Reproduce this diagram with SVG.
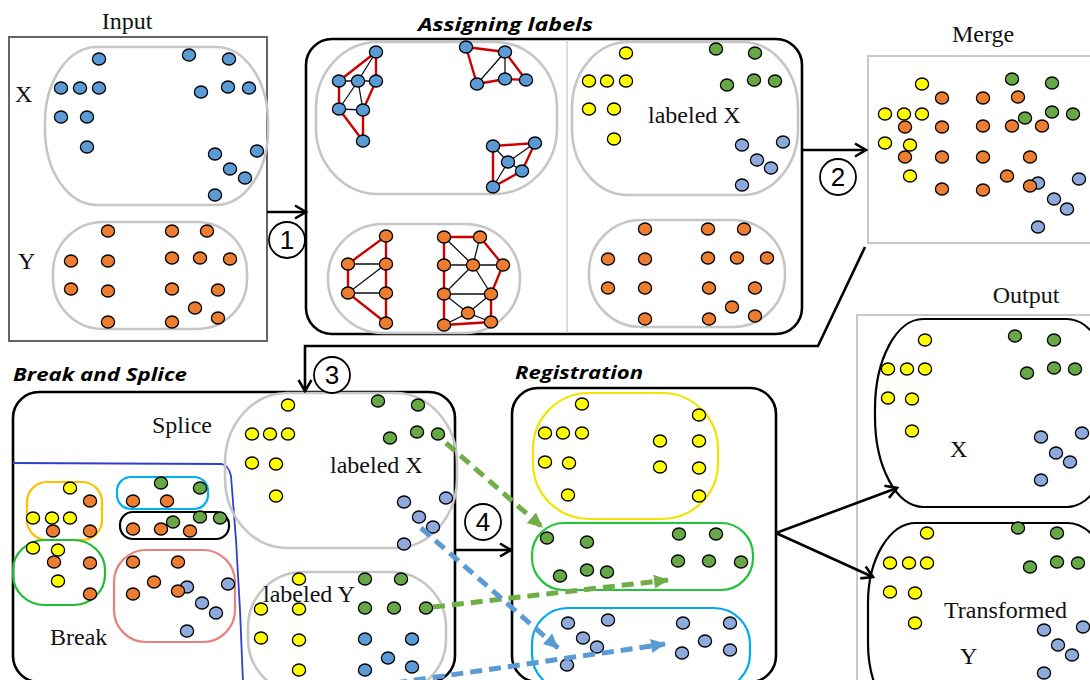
<svg xmlns="http://www.w3.org/2000/svg" xmlns:xlink="http://www.w3.org/1999/xlink" width="1090" height="680" viewBox="0 0 1090 680">
<style>
  .serif{font-family:"Liberation Serif","Times New Roman",serif;font-size:24px;fill:#111}
  .title{font-family:"Open Sans","Liberation Sans",Arial,sans-serif;font-size:18px;font-weight:bold;font-style:italic;fill:#000}
  .box{fill:none;stroke:#000;stroke-width:2.6}
  .gbox{fill:none;stroke:#c8c8c8;stroke-width:2}
  .set{fill:none;stroke:#c6c6c6;stroke-width:2.6}
  .b{fill:#5b9bd5}.o{fill:#ed7d31}.y{fill:#ffff00}.g{fill:#66a845}.l{fill:#8eaadc}
  .re{stroke:#cc0000;stroke-width:2.4;fill:none}
  .be{stroke:#111;stroke-width:1.3;fill:none}
  .arr{fill:none;stroke:#000;stroke-width:2.6}
  .num{fill:#fff;stroke:#000;stroke-width:1.8}
  .numt{font-family:"Liberation Sans",Arial,sans-serif;font-size:26px;fill:#000;text-anchor:middle}
  .dg{fill:none;stroke:#70ad47;stroke-width:5;stroke-dasharray:12 7}
  .db{fill:none;stroke:#5b9bd5;stroke-width:5;stroke-dasharray:12 7}
</style>
<defs>
  <ellipse id="dot" cx="0" cy="0" rx="6.6" ry="6" stroke="#000" stroke-width="1.3"/>
  <marker id="open" markerUnits="userSpaceOnUse" markerWidth="16" markerHeight="16" refX="12" refY="8" orient="auto" overflow="visible">
    <path d="M1,1.5 L12,8 L1,14.5" fill="none" stroke="#000" stroke-width="2.6"/>
  </marker>
  <marker id="headG" markerUnits="userSpaceOnUse" markerWidth="16" markerHeight="16" refX="14" refY="8" orient="auto">
    <path d="M0,1 L15,8 L0,15 z" fill="#70ad47"/>
  </marker>
  <marker id="headB" markerUnits="userSpaceOnUse" markerWidth="16" markerHeight="16" refX="14" refY="8" orient="auto">
    <path d="M0,1 L15,8 L0,15 z" fill="#5b9bd5"/>
  </marker>
</defs>
<rect width="1090" height="680" fill="#fff"/>

<!-- Input: raw point sets X and Y -->
<g id="input">
  <text class="serif" x="127" y="29" text-anchor="middle">Input</text>
  <rect x="9" y="37" width="258" height="304" fill="none" stroke="#666" stroke-width="2"/>
  <rect class="set" x="45" y="47" width="223" height="158" rx="52" ry="75"/>
  <rect class="set" x="53" y="222" width="194" height="107" rx="50" ry="50"/>
  <text class="serif" x="15" y="102">X</text>
  <text class="serif" x="18" y="269">Y</text>
  <g class="b">
    <use href="#dot" x="99" y="59"/><use href="#dot" x="61" y="88"/><use href="#dot" x="80" y="88"/><use href="#dot" x="99" y="88"/>
    <use href="#dot" x="61" y="117"/><use href="#dot" x="87" y="117"/><use href="#dot" x="87" y="147"/>
    <use href="#dot" x="189" y="55"/><use href="#dot" x="229" y="59"/><use href="#dot" x="201" y="92"/><use href="#dot" x="228" y="87"/><use href="#dot" x="249" y="88"/>
    <use href="#dot" x="215" y="154"/><use href="#dot" x="257" y="151"/><use href="#dot" x="230" y="169"/><use href="#dot" x="245" y="178"/><use href="#dot" x="215" y="195"/>
  </g>
  <g class="o">
    <use href="#dot" x="108" y="231"/><use href="#dot" x="172" y="231"/><use href="#dot" x="207" y="231"/>
    <use href="#dot" x="71" y="261"/><use href="#dot" x="108" y="261"/><use href="#dot" x="172" y="258"/><use href="#dot" x="200" y="258"/><use href="#dot" x="230" y="259"/>
    <use href="#dot" x="71" y="289"/><use href="#dot" x="108" y="291"/><use href="#dot" x="172" y="289"/><use href="#dot" x="218" y="290"/>
    <use href="#dot" x="195" y="308"/><use href="#dot" x="108" y="322"/><use href="#dot" x="172" y="322"/><use href="#dot" x="218" y="318"/>
  </g>
</g>

<!-- Assigning labels: neighbourhood graphs and resulting labels -->
<g id="assigning">
  <text class="title" x="418" y="31" textLength="175" lengthAdjust="spacingAndGlyphs">Assigning  labels</text>
  <rect class="box" x="306" y="39" width="496" height="295" rx="26"/>
  <line x1="567" y1="40" x2="567" y2="333" stroke="#d4d4d4" stroke-width="1.6"/>
  <rect class="set" x="316" y="42" width="241" height="152" rx="62" ry="66"/>
  <rect class="set" x="328" y="224" width="192" height="109" rx="55" ry="54"/>
  <rect class="set" x="572" y="42" width="226" height="153" rx="56" ry="66"/>
  <rect class="set" x="589" y="220" width="196" height="107" rx="52" ry="52"/>
  <!-- black graph edges -->
  <path class="be" d="M376,52L358,81M339,81L376,81M358,81L339,109M358,81L363,110M339,109L363,110
    M505,52L477,84M505,52L505,79
    M493,146L508,162L535,143M508,162L522,171M508,162L493,187
    M348,264L386,264M348,293L386,264M348,293L386,293
    M444,237L473,265L480,237M444,265L503,265M473,265L444,294M473,265L491,294M444,294L491,294M444,294L468,313L491,294M444,325L468,313L491,322"/>
  <!-- red graph edges -->
  <path class="re" d="M339,81L376,52L376,81L363,110L363,141L339,109L339,81
    M477,84L466,47L505,52L526,80L505,79L477,84
    M493,187L493,146L535,143L522,171L493,187
    M386,323L348,293L348,264L386,236L386,264L386,293L386,323
    M444,325L444,294L444,265L444,237L480,237L503,265L491,294L491,322L444,325"/>
  <g class="b">
    <use href="#dot" x="376" y="52"/><use href="#dot" x="339" y="81"/><use href="#dot" x="358" y="81"/><use href="#dot" x="376" y="81"/>
    <use href="#dot" x="339" y="109"/><use href="#dot" x="363" y="110"/><use href="#dot" x="363" y="141"/>
    <use href="#dot" x="466" y="47"/><use href="#dot" x="505" y="52"/><use href="#dot" x="477" y="84"/><use href="#dot" x="505" y="79"/><use href="#dot" x="526" y="80"/>
    <use href="#dot" x="493" y="146"/><use href="#dot" x="535" y="143"/><use href="#dot" x="508" y="162"/><use href="#dot" x="522" y="171"/><use href="#dot" x="493" y="187"/>
  </g>
  <g class="o">
    <use href="#dot" x="386" y="236"/><use href="#dot" x="348" y="264"/><use href="#dot" x="386" y="264"/><use href="#dot" x="348" y="293"/><use href="#dot" x="386" y="293"/><use href="#dot" x="386" y="323"/>
    <use href="#dot" x="444" y="237"/><use href="#dot" x="480" y="237"/><use href="#dot" x="444" y="265"/><use href="#dot" x="473" y="265"/><use href="#dot" x="503" y="265"/>
    <use href="#dot" x="444" y="294"/><use href="#dot" x="491" y="294"/><use href="#dot" x="468" y="313"/><use href="#dot" x="444" y="325"/><use href="#dot" x="491" y="322"/>
  </g>
  <g class="y">
    <use href="#dot" x="626" y="53"/><use href="#dot" x="589" y="81"/><use href="#dot" x="607" y="81"/><use href="#dot" x="626" y="81"/>
    <use href="#dot" x="589" y="109"/><use href="#dot" x="614" y="109"/><use href="#dot" x="614" y="139"/>
  </g>
  <g class="g">
    <use href="#dot" x="716" y="49"/><use href="#dot" x="755" y="53"/><use href="#dot" x="727" y="85"/><use href="#dot" x="754" y="80"/><use href="#dot" x="775" y="81"/>
  </g>
  <g class="l">
    <use href="#dot" x="742" y="145"/><use href="#dot" x="783" y="142"/><use href="#dot" x="757" y="160"/><use href="#dot" x="771" y="168"/><use href="#dot" x="742" y="185"/>
  </g>
  <g class="o">
    <use href="#dot" x="645" y="229"/><use href="#dot" x="708" y="229"/><use href="#dot" x="744" y="229"/>
    <use href="#dot" x="608" y="259"/><use href="#dot" x="645" y="259"/><use href="#dot" x="708" y="258"/><use href="#dot" x="737" y="258"/><use href="#dot" x="767" y="258"/>
    <use href="#dot" x="608" y="288"/><use href="#dot" x="645" y="288"/><use href="#dot" x="709" y="288"/><use href="#dot" x="755" y="288"/>
    <use href="#dot" x="732" y="307"/><use href="#dot" x="645" y="319"/><use href="#dot" x="709" y="319"/><use href="#dot" x="755" y="316"/>
  </g>
  <text class="serif" x="648" y="123">labeled X</text>
</g>

<!-- Merge: all labeled points together -->
<g id="merge">
  <text class="serif" x="983" y="42" text-anchor="middle">Merge</text>
  <rect class="gbox" x="868" y="56" width="240" height="187"/>
  <g class="y">
    <use href="#dot" x="922" y="84"/><use href="#dot" x="885" y="114"/><use href="#dot" x="904" y="114"/><use href="#dot" x="922" y="114"/>
    <use href="#dot" x="885" y="143"/><use href="#dot" x="910" y="145"/><use href="#dot" x="910" y="176"/>
  </g>
  <g class="g">
    <use href="#dot" x="1012" y="79"/><use href="#dot" x="1052" y="83"/><use href="#dot" x="1052" y="112"/><use href="#dot" x="1073" y="114"/>
  </g>
  <g class="l">
    <use href="#dot" x="1038" y="183"/><use href="#dot" x="1079" y="179"/><use href="#dot" x="1054" y="199"/><use href="#dot" x="1067" y="209"/><use href="#dot" x="1038" y="227"/>
  </g>
  <g class="o">
    <use href="#dot" x="942" y="98"/><use href="#dot" x="983" y="98"/><use href="#dot" x="1018" y="97"/>
    <use href="#dot" x="905" y="127"/><use href="#dot" x="942" y="127"/><use href="#dot" x="983" y="126"/><use href="#dot" x="1012" y="126"/><use href="#dot" x="1042" y="126"/>
    <use href="#dot" x="905" y="157"/><use href="#dot" x="942" y="157"/><use href="#dot" x="983" y="157"/><use href="#dot" x="1030" y="157"/>
    <use href="#dot" x="1007" y="176"/><use href="#dot" x="942" y="189"/><use href="#dot" x="983" y="190"/><use href="#dot" x="1030" y="186"/>
  </g>
  <g class="g"><use href="#dot" x="1025" y="118"/></g>
</g>

<!-- Break and Splice -->
<g id="break-splice">
  <text class="title" x="13" y="381" textLength="174" lengthAdjust="spacingAndGlyphs">Break and Splice</text>
  <rect class="box" x="13" y="392" width="442" height="290" rx="26"/>
  <text class="serif" x="152" y="433">Splice</text>
  <path d="M13,463 L222,464 Q229,466 231,476 L236,540 L240,610 L243,682" fill="none" stroke="#2e3fcf" stroke-width="1.8"/>
  <text class="serif" x="50" y="645">Break</text>
  <rect x="27" y="482" width="75" height="58" rx="20" fill="none" stroke="#ffc000" stroke-width="2.2"/>
  <rect x="13" y="540" width="92" height="65" rx="32" ry="30" fill="none" stroke="#22bb33" stroke-width="2.2"/>
  <rect x="117" y="477" width="91" height="32" rx="14" fill="none" stroke="#00b0f0" stroke-width="2.2"/>
  <rect x="120" y="512" width="109" height="27" rx="13" fill="none" stroke="#000" stroke-width="2.2"/>
  <rect x="114" y="550" width="121" height="92" rx="32" fill="none" stroke="#e88080" stroke-width="2.2"/>
  <g class="y">
    <use href="#dot" x="70" y="488"/><use href="#dot" x="33" y="518"/><use href="#dot" x="52" y="518"/><use href="#dot" x="70" y="518"/>
    <use href="#dot" x="33" y="548"/><use href="#dot" x="58" y="550"/><use href="#dot" x="58" y="581"/>
  </g>
  <g class="o">
    <use href="#dot" x="90" y="501"/><use href="#dot" x="53" y="531"/><use href="#dot" x="90" y="531"/><use href="#dot" x="54" y="562"/><use href="#dot" x="90" y="563"/><use href="#dot" x="90" y="594"/>
    <use href="#dot" x="133" y="501"/><use href="#dot" x="167" y="501"/>
    <use href="#dot" x="133" y="529"/><use href="#dot" x="161" y="529"/>
  </g>
  <g class="g">
    <use href="#dot" x="161" y="483"/><use href="#dot" x="200" y="488"/>
    <use href="#dot" x="173" y="522"/><use href="#dot" x="200" y="517"/><use href="#dot" x="220" y="518"/>
  </g>
  <g class="o"><use href="#dot" x="190" y="531"/></g>
  <g class="l">
    <use href="#dot" x="187" y="587"/><use href="#dot" x="228" y="584"/><use href="#dot" x="202" y="603"/><use href="#dot" x="216" y="613"/><use href="#dot" x="187" y="631"/>
  </g>
  <g class="o">
    <use href="#dot" x="133" y="562"/><use href="#dot" x="178" y="562"/><use href="#dot" x="154" y="582"/><use href="#dot" x="133" y="594"/><use href="#dot" x="178" y="591"/>
  </g>
  <!-- spliced sets -->
  <rect class="set" x="225" y="393" width="232" height="155" rx="62" ry="70"/>
  <rect class="set" x="248" y="572" width="198" height="122" rx="55" ry="55"/>
  <g class="y">
    <use href="#dot" x="288" y="405"/><use href="#dot" x="252" y="434"/><use href="#dot" x="270" y="434"/><use href="#dot" x="288" y="434"/>
    <use href="#dot" x="252" y="463"/><use href="#dot" x="276" y="464"/><use href="#dot" x="276" y="496"/>
    <use href="#dot" x="299" y="579"/><use href="#dot" x="261" y="609"/><use href="#dot" x="299" y="609"/><use href="#dot" x="261" y="638"/><use href="#dot" x="299" y="640"/><use href="#dot" x="299" y="670"/>
  </g>
  <g class="g">
    <use href="#dot" x="378" y="401"/><use href="#dot" x="418" y="405"/><use href="#dot" x="390" y="438"/><use href="#dot" x="417" y="432"/><use href="#dot" x="438" y="434"/>
    <use href="#dot" x="365" y="579"/><use href="#dot" x="401" y="579"/><use href="#dot" x="365" y="608"/><use href="#dot" x="394" y="608"/><use href="#dot" x="426" y="608"/>
  </g>
  <g class="l">
    <use href="#dot" x="404" y="502"/><use href="#dot" x="446" y="498"/><use href="#dot" x="419" y="517"/><use href="#dot" x="433" y="527"/><use href="#dot" x="404" y="544"/>
  </g>
  <g class="b">
    <use href="#dot" x="365" y="639"/><use href="#dot" x="412" y="639"/><use href="#dot" x="388" y="658"/><use href="#dot" x="365" y="670"/><use href="#dot" x="412" y="667"/>
  </g>
  <text class="serif" x="330" y="473">labeled X</text>
  <text class="serif" x="263" y="602">labeled Y</text>
</g>

<!-- Registration of matching label groups -->
<g id="registration">
  <text class="title" x="515" y="379" textLength="128" lengthAdjust="spacingAndGlyphs">Registration</text>
  <rect class="box" x="512" y="388" width="264" height="294" rx="26"/>
  <rect x="533" y="393" width="185" height="126" rx="56" ry="56" fill="none" stroke="#f2e400" stroke-width="2.2"/>
  <rect x="532" y="523" width="221" height="67" rx="32" fill="none" stroke="#22c33a" stroke-width="2.2"/>
  <rect x="532" y="608" width="218" height="82" rx="36" fill="none" stroke="#00aaee" stroke-width="2.2"/>
  <g class="y">
    <use href="#dot" x="582" y="404"/><use href="#dot" x="545" y="433"/><use href="#dot" x="563" y="433"/><use href="#dot" x="582" y="433"/>
    <use href="#dot" x="545" y="462"/><use href="#dot" x="569" y="463"/><use href="#dot" x="568" y="495"/>
    <use href="#dot" x="699" y="415"/><use href="#dot" x="660" y="441"/><use href="#dot" x="699" y="441"/><use href="#dot" x="660" y="467"/><use href="#dot" x="699" y="468"/><use href="#dot" x="699" y="496"/>
  </g>
  <g class="g">
    <use href="#dot" x="547" y="538"/><use href="#dot" x="587" y="542"/><use href="#dot" x="560" y="576"/><use href="#dot" x="587" y="570"/><use href="#dot" x="607" y="572"/>
    <use href="#dot" x="679" y="534"/><use href="#dot" x="716" y="534"/><use href="#dot" x="678" y="561"/><use href="#dot" x="709" y="561"/><use href="#dot" x="741" y="562"/>
  </g>
  <g class="l">
    <use href="#dot" x="568" y="623"/><use href="#dot" x="608" y="620"/><use href="#dot" x="583" y="638"/><use href="#dot" x="597" y="647"/><use href="#dot" x="567" y="665"/>
    <use href="#dot" x="683" y="623"/><use href="#dot" x="730" y="623"/><use href="#dot" x="705" y="641"/><use href="#dot" x="682" y="653"/><use href="#dot" x="730" y="650"/>
  </g>
</g>

<!-- Output: X and transformed Y -->
<g id="output">
  <text class="serif" x="1026" y="303" text-anchor="middle">Output</text>
  <rect class="gbox" x="857" y="315" width="250" height="380"/>
  <rect x="875" y="319" width="240" height="188" rx="48" ry="90" fill="none" stroke="#000" stroke-width="2.2"/>
  <rect x="868" y="523" width="247" height="200" rx="48" ry="80" fill="none" stroke="#000" stroke-width="2.2"/>
  <g class="y">
    <use href="#dot" x="925" y="340"/><use href="#dot" x="888" y="369"/><use href="#dot" x="907" y="369"/><use href="#dot" x="925" y="369"/>
    <use href="#dot" x="888" y="398"/><use href="#dot" x="912" y="399"/><use href="#dot" x="912" y="431"/>
    <use href="#dot" x="927" y="533"/><use href="#dot" x="890" y="563"/><use href="#dot" x="909" y="563"/><use href="#dot" x="927" y="563"/>
    <use href="#dot" x="890" y="592"/><use href="#dot" x="915" y="593"/><use href="#dot" x="915" y="623"/>
  </g>
  <g class="g">
    <use href="#dot" x="1015" y="336"/><use href="#dot" x="1054" y="340"/><use href="#dot" x="1027" y="373"/><use href="#dot" x="1054" y="368"/><use href="#dot" x="1075" y="369"/>
    <use href="#dot" x="1018" y="528"/><use href="#dot" x="1057" y="533"/><use href="#dot" x="1030" y="567"/><use href="#dot" x="1057" y="562"/><use href="#dot" x="1078" y="563"/>
  </g>
  <g class="l">
    <use href="#dot" x="1041" y="437"/><use href="#dot" x="1082" y="433"/><use href="#dot" x="1056" y="453"/><use href="#dot" x="1070" y="462"/><use href="#dot" x="1041" y="480"/>
    <use href="#dot" x="1044" y="630"/><use href="#dot" x="1083" y="627"/><use href="#dot" x="1058" y="645"/><use href="#dot" x="1072" y="655"/><use href="#dot" x="1044" y="673"/>
  </g>
  <text class="serif" x="950" y="457">X</text>
  <text class="serif" x="944" y="618">Transformed</text>
  <text class="serif" x="960" y="664">Y</text>
</g>

<!-- Step connectors -->
<g id="connectors">
  <line class="arr" x1="267" y1="212" x2="306" y2="212" marker-end="url(#open)"/>
  <circle class="num" cx="287" cy="240" r="18"/>
  <text class="numt" x="287" y="249">1</text>

  <line class="arr" x1="803" y1="150" x2="866" y2="150" marker-end="url(#open)"/>
  <circle class="num" cx="838" cy="177" r="18"/>
  <text class="numt" x="838" y="186">2</text>

  <polyline class="arr" points="865,247 818,346 305,346 305,391" marker-end="url(#open)"/>
  <circle class="num" cx="332" cy="375" r="18"/>
  <text class="numt" x="332" y="384">3</text>

  <line class="arr" x1="455" y1="550" x2="511" y2="550" marker-end="url(#open)"/>
  <circle class="num" cx="483" cy="522" r="18"/>
  <text class="numt" x="483" y="531">4</text>

  <line class="arr" x1="776" y1="533" x2="897" y2="488" marker-end="url(#open)"/>
  <line class="arr" x1="776" y1="533" x2="873" y2="577" marker-end="url(#open)"/>

  <line class="dg" x1="446" y1="443" x2="542" y2="527" marker-end="url(#headG)"/>
  <line class="dg" x1="433" y1="607" x2="668" y2="580" marker-end="url(#headG)"/>
  <line class="db" x1="421" y1="528" x2="558" y2="648" marker-end="url(#headB)"/>
  <line class="db" x1="395" y1="683" x2="665" y2="644" marker-end="url(#headB)"/>
</g>
</svg>
